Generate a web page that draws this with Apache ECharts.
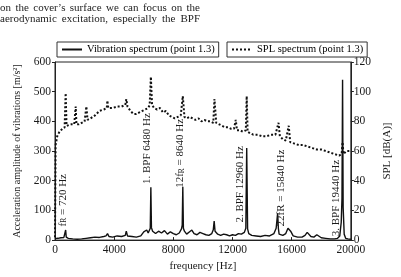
<!DOCTYPE html>
<html>
<head>
<meta charset="utf-8">
<script src="https://cdn.jsdelivr.net/npm/echarts@6.0.0/dist/echarts.min.js"></script>
<style>
html, body { margin: 0; padding: 0; background: #fff; }
#chart { width: 401px; height: 277px; }
</style>
</head>
<body>
<div id="chart"></div>
<script>
// vibration spectrum (left axis, m/s2)
var vibFreq = [0, 200, 400, 600, 680, 720, 760, 900, 1200, 1500, 1800, 2100, 2400, 2700, 3000, 3300, 3450, 3550, 3650, 3900,
    4200, 4500, 4750, 4820, 4900, 5200, 5500, 5800, 6000, 6100, 6200, 6300, 6400, 6440, 6480, 6520, 6600, 6700, 6800, 7000,
    7200, 7400, 7600, 7800, 8000, 8200, 8400, 8550, 8600, 8640, 8680, 8750, 8900, 9100, 9250, 9400, 9600, 9800, 10000, 10200,
    10400, 10600, 10700, 10760, 10820, 11000, 11200, 11400, 11600, 11800, 12000, 12200, 12400, 12600, 12800, 12900, 12960, 13020, 13100, 13300,
    13600, 13900, 14200, 14500, 14800, 14950, 15050, 15100, 15150, 15250, 15400, 15600, 15750, 15840, 15930, 16100, 16400, 16700, 16900, 17050,
    17150, 17300, 17500, 17700, 17800, 18000, 18300, 18600, 18900, 19100, 19250, 19350, 19400, 19440, 19480, 19550, 19650, 19800, 20000];
var vibAmp = [5, 6, 8, 9, 12, 34, 10, 6, 4, 3, 4, 6, 8, 10, 9, 12, 14, 22, 12, 10,
    14, 12, 16, 30, 14, 12, 10, 14, 28, 22, 34, 24, 30, 40, 178, 42, 30, 36, 22, 30,
    24, 32, 20, 28, 22, 18, 24, 38, 50, 180, 40, 30, 20, 28, 34, 22, 18, 26, 22, 18,
    16, 22, 35, 64, 30, 20, 16, 20, 18, 14, 18, 16, 22, 20, 26, 40, 310, 38, 22, 16,
    14, 12, 16, 14, 22, 40, 90, 40, 20, 14, 16, 22, 40, 44, 30, 14, 10, 10, 16, 26,
    22, 12, 10, 18, 12, 8, 6, 4, 4, 6, 14, 60, 140, 540, 110, 20, 6, 4, 3];

// SPL spectrum (right axis, dB(A))
var splFreq = [0, 40, 150, 300, 500, 650, 720, 780, 900, 1100, 1300, 1400, 1450, 1600, 1800, 2000, 2120, 2200, 2400, 2700,
    3000, 3300, 3500, 3540, 3600, 3900, 4200, 4500, 4750, 4820, 4900, 5100, 5300, 5500, 5700, 5900, 6100, 6300, 6400, 6480,
    6560, 6700, 6900, 7100, 7300, 7500, 7700, 7900, 8100, 8300, 8500, 8640, 8750, 8900, 9100, 9300, 9500, 9700, 9900, 10100,
    10300, 10500, 10700, 10780, 10900, 11100, 11300, 11500, 11700, 11900, 12100, 12220, 12300, 12500, 12700, 12900, 12960, 13020, 13200, 13400,
    13700, 14000, 14300, 14600, 14900, 15110, 15200, 15400, 15600, 15800, 15900, 16200, 16500, 16800, 17100, 17400, 17700, 18000, 18300, 18600,
    18900, 19200, 19380, 19440, 19500, 19700, 20000];
var splLevel = [2, 64, 70, 73, 75, 76, 99, 77, 77, 78, 78, 90, 78, 78, 79, 80, 90, 81, 82, 84,
    87, 88, 89, 94, 89, 89, 90, 90, 91, 95, 90, 87, 85, 85, 86, 87, 88, 89, 91, 110,
    91, 89, 88, 89, 86, 87, 84, 83, 82, 83, 84, 97, 83, 82, 83, 82, 81, 82, 80, 81,
    80, 80, 79, 95, 79, 78, 77, 76, 76, 75, 75, 81, 74, 74, 73, 74, 97, 73, 72, 71,
    71, 70, 70, 71, 71, 79, 70, 68, 67, 77, 66, 65, 64, 64, 63, 62, 61, 61, 60, 59,
    58, 57, 58, 66, 58, 60, 60];

// vertical annotations: anchor frequency, anchor value (left axis) and text
var noteFreq = [515, 6238, 8489, 12540, 15305, 18971];
var noteBase = [46, 189, 176, 59, 46, 13];
var noteText = ['f{s|R} = 720 Hz', '1. BPF 6480 Hz', '12f{s|R} = 8640 Hz', '2. BPF 12960 Hz', '22fR = 15840 Hz', '3. BPF 19440 Hz'];

var textLines = ['on the cover\u2019s surface we can focus on the', 'aerodynamic excitation, especially the BPF'];

var serif = '"Liberation Serif", "Times New Roman", serif';
var ink = '#1a1a1a';

function zip(a, b) {
    return a.map(function (v, i) { return [v, b[i]]; });
}

// justified paragraph words above the chart
var ctx = document.createElement('canvas').getContext('2d');
ctx.font = '11px "Liberation Serif"';
var paragraph = [];
textLines.forEach(function (line, li) {
    var words = line.split(' ');
    var widths = words.map(function (w) { return ctx.measureText(w).width; });
    var total = widths.reduce(function (a, b) { return a + b; }, 0);
    var gap = (200 - total) / (words.length - 1);
    var x = 0;
    words.forEach(function (w, i) {
        paragraph.push({
            type: 'text', x: x, y: 8.5 + li * 11,
            style: { text: w, fontSize: 11, fontFamily: serif, fill: '#222', verticalAlign: 'middle' }
        });
        x += widths[i] + gap;
    });
});

var chart = echarts.init(document.getElementById('chart'));

var legendBase = {
    top: 42,
    orient: 'horizontal',
    padding: [2, 4, 2, 4],
    borderColor: '#333',
    borderWidth: 1,
    borderRadius: 0,
    itemWidth: 20,
    itemHeight: 12,
    itemGap: 5,
    itemStyle: { opacity: 0 },
    textStyle: { fontSize: 10.5, fontFamily: serif, color: '#000' }
};

var plainNum = function (v) { return String(v); };

var option = {
    animation: false,
    backgroundColor: '#fff',
    graphic: paragraph,
    legend: [
        Object.assign({ left: 57, data: ['Vibration spectrum (point 1.3)'] }, legendBase),
        Object.assign({ left: 227, data: ['SPL spectrum (point 1.3)'] }, legendBase)
    ],
    grid: {
        left: 55, right: 35, top: 62, bottom: 31,
        show: true, borderColor: '#222', borderWidth: 1, backgroundColor: 'transparent'
    },
    xAxis: {
        type: 'value',
        min: 0, max: 20000, interval: 4000,
        name: 'frequency [Hz]',
        nameLocation: 'middle',
        nameGap: 18,
        nameTextStyle: { fontSize: 11, fontFamily: serif, color: ink },
        axisLine: { lineStyle: { color: '#222' } },
        axisTick: { inside: true, length: 3, lineStyle: { color: '#222' } },
        axisLabel: { fontSize: 11.5, fontFamily: serif, color: ink, margin: 4, formatter: plainNum },
        splitLine: { show: false }
    },
    yAxis: [
        {
            type: 'value',
            min: 0, max: 600, interval: 100,
            name: 'Acceleration amplitude of vibrations [m/s\u00b2]',
            nameLocation: 'middle',
            nameGap: 32,
            nameRotate: 90,
            nameTextStyle: { fontSize: 10, fontFamily: serif, color: ink },
            axisLine: { show: true, lineStyle: { color: '#222' } },
            axisTick: { show: true, length: 3, lineStyle: { color: '#222' } },
            axisLabel: { fontSize: 11.5, fontFamily: serif, color: ink, margin: 4, formatter: plainNum },
            splitLine: { show: false }
        },
        {
            type: 'value',
            position: 'right',
            min: 0, max: 120, interval: 20,
            name: 'SPL [dB(A)]',
            nameLocation: 'middle',
            nameGap: 22,
            nameRotate: 90,
            nameTextStyle: { fontSize: 11, fontFamily: serif, color: ink },
            axisLine: { show: true, lineStyle: { color: '#222' } },
            axisTick: { show: true, length: 3, lineStyle: { color: '#222' } },
            axisLabel: { fontSize: 11.5, fontFamily: serif, color: ink, margin: 3, formatter: plainNum },
            splitLine: { show: false }
        }
    ],
    series: [
        {
            name: 'Vibration spectrum (point 1.3)',
            type: 'line',
            yAxisIndex: 0,
            symbol: 'none',
            data: zip(vibFreq, vibAmp),
            color: '#111',
            lineStyle: { color: '#111', width: 1.4 },
            z: 3,
            markPoint: {
                symbol: 'circle',
                symbolSize: 0,
                silent: true,
                label: {
                    show: true,
                    position: 'inside',
                    rotate: 90,
                    align: 'left',
                    verticalAlign: 'middle',
                    fontSize: 11,
                    fontFamily: serif,
                    color: ink,
                    rich: { s: { fontSize: 7.5, fontFamily: serif, color: ink, verticalAlign: 'bottom' } }
                },
                data: noteFreq.map(function (f, i) {
                    return { coord: [f, noteBase[i]], value: noteText[i], label: { formatter: noteText[i] } };
                })
            }
        },
        {
            name: 'SPL spectrum (point 1.3)',
            type: 'line',
            yAxisIndex: 1,
            symbol: 'none',
            data: zip(splFreq, splLevel),
            color: '#111',
            lineStyle: { color: '#111', width: 2, type: 'dotted' },
            z: 2
        }
    ]
};

chart.setOption(option);
</script>
</body>
</html>
